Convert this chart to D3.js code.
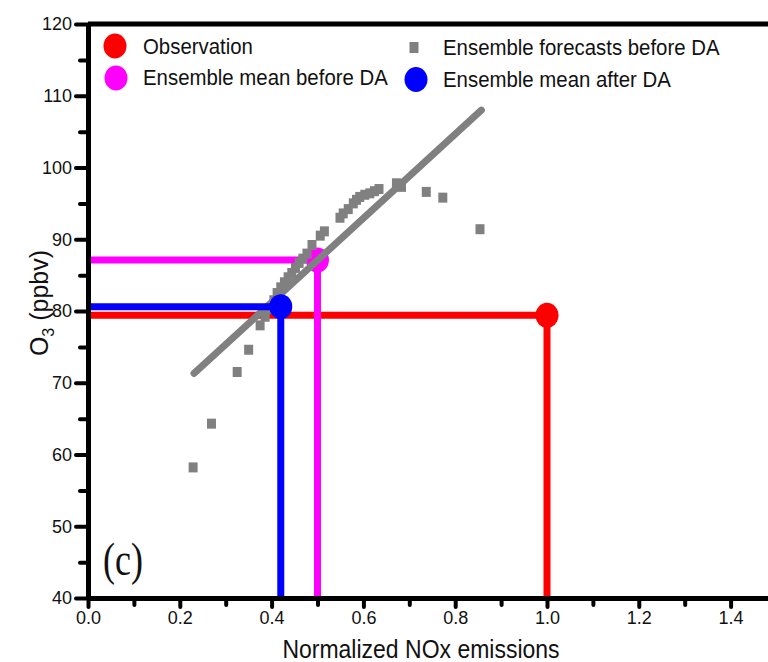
<!DOCTYPE html>
<html>
<head>
<meta charset="utf-8">
<script src="https://cdn.jsdelivr.net/npm/d3@7"></script>
<style>
  html, body { margin: 0; padding: 0; background: #ffffff; }
  svg { display: block; }
</style>
</head>
<body>
<svg id="chart" width="768" height="662"></svg>
<script>
// ---------------- data ----------------
const xMajorTicks = [0.0, 0.2, 0.4, 0.6, 0.8, 1.0, 1.2, 1.4];
const xMinorTicks = [0.1, 0.3, 0.5, 0.7, 0.9, 1.1, 1.3];
const xTickLabels = ["0.0", "0.2", "0.4", "0.6", "0.8", "1.0", "1.2", "1.4"];
const yMajorTicks = [40, 50, 60, 70, 80, 90, 100, 110, 120];
const yMinorTicks = [45, 55, 65, 75, 85, 95, 105, 115];
const yTickLabels = ["40", "50", "60", "70", "80", "90", "100", "110", "120"];

// Ensemble forecasts before DA (normalized NOx, O3 ppbv)
const forecastNOx = [0.229, 0.269, 0.325, 0.350, 0.375, 0.386, 0.396, 0.405, 0.412, 0.420,
                     0.428, 0.436, 0.444, 0.452, 0.460, 0.468, 0.477, 0.488, 0.506, 0.515,
                     0.549, 0.556, 0.567, 0.578, 0.585, 0.592, 0.603, 0.614, 0.624, 0.634,
                     0.672, 0.683, 0.737, 0.773, 0.854];
const forecastO3  = [58.2, 64.3, 71.5, 74.6, 78.0, 79.2, 80.3, 81.5, 82.5, 83.3,
                     84.0, 84.7, 85.3, 86.0, 86.7, 87.3, 88.0, 89.2, 90.5, 91.1,
                     93.0, 93.6, 94.2, 95.0, 95.5, 95.9, 96.2, 96.4, 96.7, 97.0,
                     97.8, 97.3, 96.6, 95.8, 91.4];

// Linear fit through the ensemble
const fitNOx = [0.231, 0.857];
const fitO3  = [71.3, 108.0];

// Observation and ensemble means  [NOx, O3]
const observation = [1.0, 79.4];
const meanBefore  = [0.5, 87.1];
const meanAfter   = [0.42, 80.6];

const legendLabels = ["Observation", "Ensemble mean before DA", "Ensemble forecasts before DA", "Ensemble mean after DA"];

// ---------------- layout ----------------
const svg = d3.select("#chart");
const X0 = 88, Y0 = 598, YT = 24;
const x = d3.scaleLinear().domain([0, 1.5]).range([X0, X0 + 1.5 * 459]);
const y = d3.scaleLinear().domain([40, 120]).range([Y0, YT]);

const RED = "#ff0000", MAG = "#ff00ff", BLUE = "#0000ff", GRAY = "#808080";
const font = "'Liberation Sans', Arial, Helvetica, sans-serif";

// ---------------- marks ----------------
const marks = svg.append("g");
const LW = 7;

function guide(pt, color) {
  marks.append("line")
    .attr("x1", x(0)).attr("x2", x(pt[0]))
    .attr("y1", y(pt[1])).attr("y2", y(pt[1]))
    .attr("stroke", color).attr("stroke-width", LW);
  marks.append("line")
    .attr("x1", x(pt[0])).attr("x2", x(pt[0]))
    .attr("y1", y(40)).attr("y2", y(pt[1]))
    .attr("stroke", color).attr("stroke-width", LW);
}
function dot(pt, color) {
  marks.append("ellipse")
    .attr("cx", x(pt[0])).attr("cy", y(pt[1]))
    .attr("rx", 11.5).attr("ry", 12.5)
    .attr("fill", color);
}

guide(observation, RED);
guide(meanBefore, MAG);
dot(meanBefore, MAG);

// ensemble forecasts
marks.append("g").selectAll("rect")
  .data(forecastNOx.map((v, i) => [v, forecastO3[i]]))
  .join("rect")
  .attr("x", d => x(d[0]) - 4.5)
  .attr("y", d => y(d[1]) - 5)
  .attr("width", 9).attr("height", 10)
  .attr("fill", GRAY);

// fit line
marks.append("path")
  .datum(fitNOx.map((v, i) => [v, fitO3[i]]))
  .attr("d", d3.line().x(d => x(d[0])).y(d => y(d[1])))
  .attr("stroke", GRAY).attr("stroke-width", 7)
  .attr("stroke-linecap", "round").attr("fill", "none");

guide(meanAfter, BLUE);
dot(meanAfter, BLUE);
dot(observation, RED);

// ---------------- axes ----------------
function styleAxis(g) {
  g.selectAll(".domain").attr("stroke", "#000").attr("stroke-width", 5);
  g.selectAll(".tick line").attr("stroke", "#000").attr("stroke-width", 4)
    .attr("stroke-linecap", "round");
  g.selectAll(".tick text").attr("fill", "#111").attr("font-family", font)
    .attr("font-size", 18);
}

// minor ticks
svg.append("g").attr("transform", `translate(${X0},0)`)
  .call(d3.axisLeft(y).tickValues(yMinorTicks).tickSize(8).tickSizeOuter(0).tickFormat(""))
  .call(styleAxis);
svg.append("g").attr("transform", `translate(0,${Y0})`)
  .call(d3.axisBottom(x).tickValues(xMinorTicks).tickSize(7).tickSizeOuter(0).tickFormat(""))
  .call(styleAxis);

// major ticks
svg.append("g").attr("transform", `translate(${X0},0)`)
  .call(d3.axisLeft(y).tickValues(yMajorTicks).tickSize(12).tickSizeOuter(0).tickPadding(4)
        .tickFormat((d, i) => yTickLabels[i]))
  .call(styleAxis);
svg.append("g").attr("transform", `translate(0,${Y0})`)
  .call(d3.axisBottom(x).tickValues(xMajorTicks).tickSize(9).tickSizeOuter(0).tickPadding(4)
        .tickFormat((d, i) => xTickLabels[i]))
  .call(styleAxis);

// top frame line
svg.append("line")
  .attr("x1", X0).attr("x2", 768).attr("y1", YT).attr("y2", YT)
  .attr("stroke", "#000").attr("stroke-width", 5);

// ---------------- titles ----------------
svg.append("text")
  .attr("transform", "translate(421,658) scale(1,1.12)")
  .attr("text-anchor", "middle")
  .attr("font-family", font).attr("font-size", 23).attr("fill", "#111")
  .text("Normalized NOx emissions");

const yt = svg.append("text")
  .attr("transform", "translate(48,303) rotate(-90)")
  .attr("text-anchor", "middle")
  .attr("font-family", font).attr("font-size", 25).attr("fill", "#111");
yt.append("tspan").text("O");
yt.append("tspan").attr("font-size", 16).attr("dy", 6).text("3");
yt.append("tspan").attr("dy", -6).text(" (ppbv)");

svg.append("text")
  .attr("transform", "translate(103,575) scale(1,1.3)")
  .attr("font-family", "'Liberation Serif', 'Times New Roman', serif")
  .attr("font-size", 36).attr("fill", "#111")
  .text("(c)");

// ---------------- legend ----------------
const leg = svg.append("g");
const legendItems = [
  {label: legendLabels[0], kind: "dot", color: RED,  mx: 115, my: 46,   tx: 143, ty: 54},
  {label: legendLabels[1], kind: "dot", color: MAG,  mx: 116, my: 78,   tx: 143, ty: 85},
  {label: legendLabels[2], kind: "sq",  color: GRAY, mx: 414, my: 47.5, tx: 443, ty: 55},
  {label: legendLabels[3], kind: "dot", color: BLUE, mx: 416, my: 79.5, tx: 443, ty: 87}
];
legendItems.forEach(it => {
  if (it.kind === "dot") {
    leg.append("ellipse").attr("cx", it.mx).attr("cy", it.my)
      .attr("rx", 11.5).attr("ry", 12.5).attr("fill", it.color);
  } else {
    leg.append("rect").attr("x", it.mx - 4.5).attr("y", it.my - 5.5)
      .attr("width", 9).attr("height", 11).attr("fill", it.color);
  }
  leg.append("text")
    .attr("transform", `translate(${it.tx},${it.ty}) scale(1,1.1)`)
    .attr("font-family", font).attr("font-size", 20.4).attr("fill", "#111")
    .text(it.label);
});
</script>
</body>
</html>
